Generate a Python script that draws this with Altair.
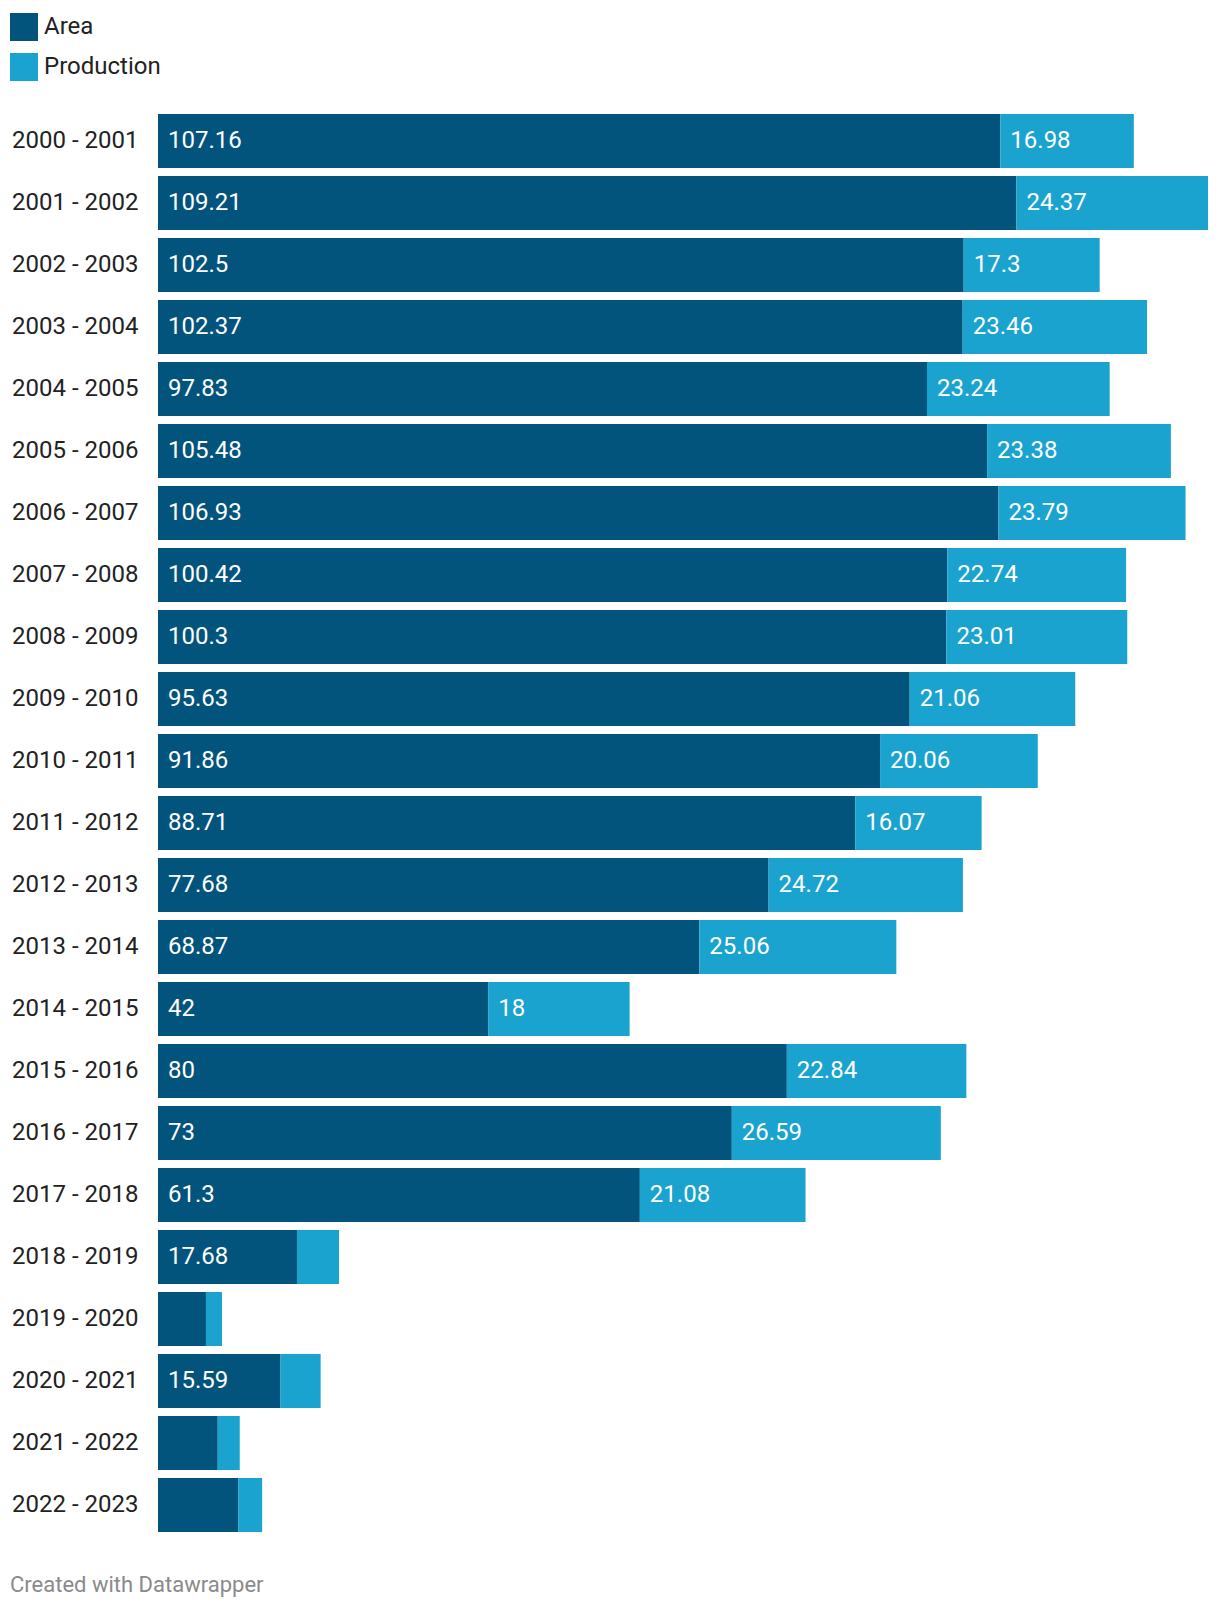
import altair as alt
import pandas as pd

periods = ["2000 - 2001", "2001 - 2002", "2002 - 2003", "2003 - 2004", "2004 - 2005",
           "2005 - 2006", "2006 - 2007", "2007 - 2008", "2008 - 2009", "2009 - 2010",
           "2010 - 2011", "2011 - 2012", "2012 - 2013", "2013 - 2014", "2014 - 2015",
           "2015 - 2016", "2016 - 2017", "2017 - 2018", "2018 - 2019", "2019 - 2020",
           "2020 - 2021", "2021 - 2022", "2022 - 2023"]
area = [107.16, 109.21, 102.5, 102.37, 97.83, 105.48, 106.93, 100.42, 100.3, 95.63,
        91.86, 88.71, 77.68, 68.87, 42, 80, 73, 61.3, 17.68, 6.1, 15.59, 7.6, 10.2]
production = [16.98, 24.37, 17.3, 23.46, 23.24, 23.38, 23.79, 22.74, 23.01, 21.06,
              20.06, 16.07, 24.72, 25.06, 18, 22.84, 26.59, 21.08, 5.35, 2.04, 5.1, 2.8, 3.05]
series = ["Area", "Production"]
colors = ["#03547c", "#1aa3cf"]
footer = "Created with Datawrapper"

rows = []
for p, a, pr in zip(periods, area, production):
    rows.append({"period": p, "series": "Area", "order": 0, "value": a})
    rows.append({"period": p, "series": "Production", "order": 1, "value": pr})
df = pd.DataFrame(rows)

FONT = "Roboto"
FS = 24
total_max = max(a + p for a, p in zip(area, production))

base = alt.Chart(df).transform_stack(
    stack="value", groupby=["period"], as_=["v0", "v1"],
    sort=[alt.SortField("order", order="ascending")]
)

y = alt.Y("period:N", sort=periods, title=None,
          scale=alt.Scale(paddingInner=0.129, paddingOuter=0.065),
          axis=alt.Axis(domain=False, ticks=False, labelPadding=20, labelFontSize=FS,
                        labelFont=FONT, labelColor="#222222", labelAlign="right"))
xs = alt.Scale(domain=[0, total_max], nice=False, zero=True)

bars = base.mark_bar().encode(
    y=y,
    x=alt.X("v0:Q", scale=xs, axis=None, title=None),
    x2="v1:Q",
    color=alt.Color("series:N", scale=alt.Scale(domain=series, range=colors),
                    legend=alt.Legend(title=None)),
)

labels = base.transform_filter("datum.value >= 12").mark_text(
    align="left", baseline="middle", dx=10, fontSize=FS, font=FONT, color="white"
).encode(
    y=alt.Y("period:N", sort=periods),
    x=alt.X("v0:Q", scale=xs),
    text=alt.Text("value:Q"),
)

foot = alt.Chart(pd.DataFrame({"t": [footer]})).mark_text(
    align="left", baseline="alphabetic", fontSize=22, font=FONT, color="#8a8a8a"
).encode(x=alt.value(-148), y=alt.value(1482), text="t:N")

chart = alt.layer(bars, labels, foot).properties(
    width=1050, height=1426,
    autosize=alt.AutoSizeParams(type="none"),
    padding={"left": 150, "top": 102, "right": 4, "bottom": 64},
).configure_view(stroke=None).configure_legend(
    orient="none", legendX=-148, legendY=-97, symbolType="square",
    symbolSize=784, symbolStrokeWidth=0, labelFontSize=FS, labelFont=FONT,
    labelColor="#222222", rowPadding=12, labelOffset=6, padding=0, symbolOffset=0
)

chart.save("out.html", embed_options={"renderer": "svg", "actions": False})
